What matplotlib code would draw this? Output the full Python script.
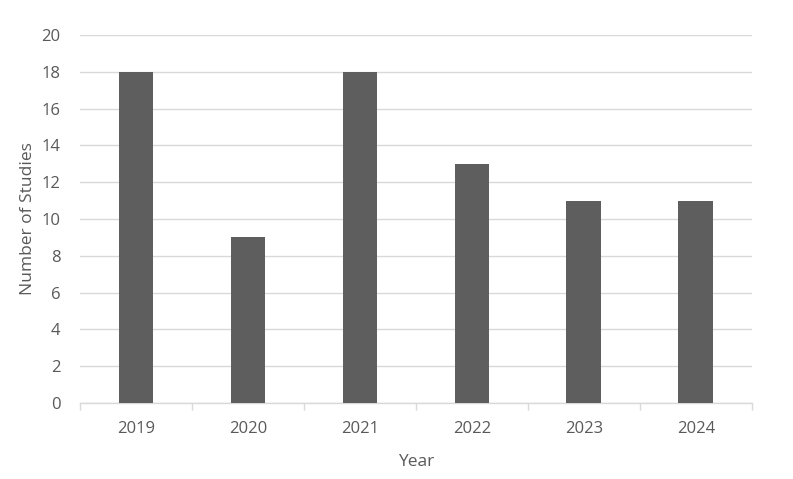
import numpy as np
import matplotlib.pyplot as plt

# Data
years = ["2019", "2020", "2021", "2022", "2023", "2024"]
studies = [18, 9, 18, 13, 11, 11]

plt.rcParams['font.family'] = ['Open Sans', 'DejaVu Sans']
text_color = "#595959"
grid_color = "#d9d9d9"

fig = plt.figure(figsize=(7.93, 4.79), dpi=100)
ax = fig.add_axes([0.101, 0.1587, 0.847, 0.768])

x = np.arange(len(years))
ax.bar(x, studies, width=0.31, color="#5e5e5e", zorder=3)

ax.set_xlim(-0.5, len(years) - 0.5)
ax.set_ylim(0, 20)
ax.set_yticks(np.arange(0, 21, 2))
ax.set_xticks(x)
ax.set_xticklabels(years)
ax.set_xticks(np.arange(-0.5, len(years), 1), minor=True)

ax.grid(axis="y", color=grid_color, linewidth=1, zorder=0)
for s in ["top", "right", "left"]:
    ax.spines[s].set_visible(False)
ax.spines["bottom"].set_color(grid_color)
ax.spines["bottom"].set_linewidth(1)

ax.tick_params(axis="y", length=0, labelsize=12, labelcolor=text_color, pad=14)
ax.tick_params(axis="x", which="major", length=0, labelsize=12, labelcolor=text_color, pad=13)
ax.tick_params(axis="x", which="minor", length=5, color=grid_color, width=1)

ax.set_xlabel("Year", fontsize=12.5, color=text_color, labelpad=12)
ax.set_ylabel("Number of Studies", fontsize=12.5, color=text_color, labelpad=4)

fig.savefig("out.png", dpi=100)
